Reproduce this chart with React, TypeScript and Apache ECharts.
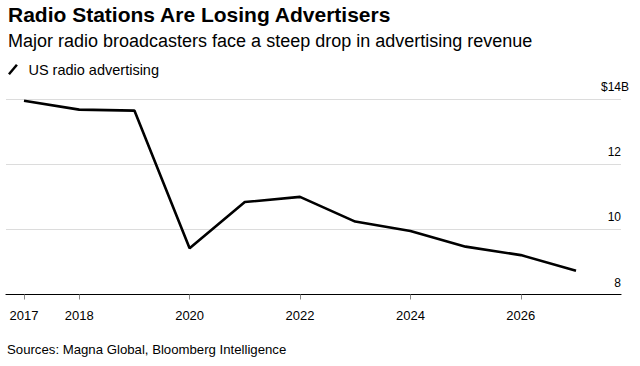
import React, { useEffect, useRef } from "react";
import * as echarts from "echarts";

const titleText = "Radio Stations Are Losing Advertisers";
const subtitleText = "Major radio broadcasters face a steep drop in advertising revenue";
const sourceText = "Sources: Magna Global, Bloomberg Intelligence";
const seriesName = "US radio advertising";

const years = [2017, 2018, 2019, 2020, 2021, 2022, 2023, 2024, 2025, 2026, 2027];
const adRevenue = [13.95, 13.68, 13.65, 9.42, 10.84, 11.0, 10.24, 9.95, 9.47, 9.21, 8.73];
const xTickYears = [2017, 2018, 2020, 2022, 2024, 2026];
const yTicks = [8, 10, 12, 14];

const FONT = "'Liberation Sans', Arial, Helvetica, sans-serif";

export default function App() {
  const ref = useRef<HTMLDivElement>(null);
  useEffect(() => {
    if (!ref.current) return;
    const chart = echarts.init(ref.current, undefined, { renderer: "svg" });
    const topVal = yTicks[yTicks.length - 1];
    chart.setOption({
      animation: false,
      backgroundColor: "#fff",
      textStyle: { fontFamily: FONT },
      title: [
        {
          text: titleText,
          left: 8,
          top: 4,
          padding: 0,
          textStyle: { fontFamily: FONT, fontSize: 21, fontWeight: "bold", color: "#000" },
        },
        {
          text: subtitleText,
          left: 8,
          top: 32,
          padding: 0,
          textStyle: { fontFamily: FONT, fontSize: 18, fontWeight: "normal", color: "#000" },
        },
        {
          text: sourceText,
          left: 7,
          top: 343,
          padding: 0,
          textStyle: { fontFamily: FONT, fontSize: 13.2, fontWeight: "normal", color: "#000" },
        },
      ],
      legend: {
        left: 8,
        top: 62,
        padding: 0,
        itemWidth: 11,
        itemHeight: 11,
        itemGap: 10,
        data: [
          {
            name: seriesName,
            icon: "path://M0,10 L8.4,0 L10.4,1.6 L2,11.6 Z",
          },
        ],
        textStyle: { fontFamily: FONT, fontSize: 14.5, color: "#000", padding: [0, 0, 0, 5] },
        itemStyle: { color: "#000" },
        selectedMode: false,
      },
      grid: { left: 6, right: 19, top: 99.2, bottom: 71.5, containLabel: false },
      xAxis: {
        type: "value",
        min: 2016.674,
        max: 2027.815,
        axisLine: { show: true, lineStyle: { color: "#000", width: 1.2 } },
        axisTick: {
          show: true,
          length: 5,
          customValues: xTickYears,
          lineStyle: { color: "#888", width: 1 },
        },
        axisLabel: {
          customValues: xTickYears,
          formatter: (v: number) => String(v),
          fontFamily: FONT,
          fontSize: 13,
          color: "#000",
          margin: 14,
        },
        splitLine: { show: false },
      },
      yAxis: {
        type: "value",
        position: "right",
        min: 8,
        max: 14,
        interval: 2,
        axisLine: { show: false },
        axisTick: { show: false },
        splitLine: { show: true, lineStyle: { color: "#dcdcdc", width: 1 } },
        axisLabel: {
          inside: false,
          margin: 0,
          align: "right",
          verticalAlign: "bottom",
          padding: [0, 0, 6, 0],
          fontFamily: FONT,
          fontSize: 12,
          color: "#000",
          formatter: (v: number) =>
            v === topVal ? "{n|$" + v + "}{u|B}" : "{n|" + v + "}",
          rich: {
            n: { fontFamily: FONT, fontSize: 12, color: "#000", align: "left" },
            u: { fontFamily: FONT, fontSize: 12, color: "#000", width: 0, align: "left" },
          },
        },
      },
      series: [
        {
          name: seriesName,
          type: "line",
          data: years.map((y, i) => [y, adRevenue[i]]),
          symbol: "none",
          lineStyle: { color: "#000", width: 2.6 },
          itemStyle: { color: "#000" },
        },
      ],
    });
    return () => chart.dispose();
  }, []);
  return <div ref={ref} style={{ width: 640, height: 366, position: "absolute", left: 0, top: 0 }} />;
}
